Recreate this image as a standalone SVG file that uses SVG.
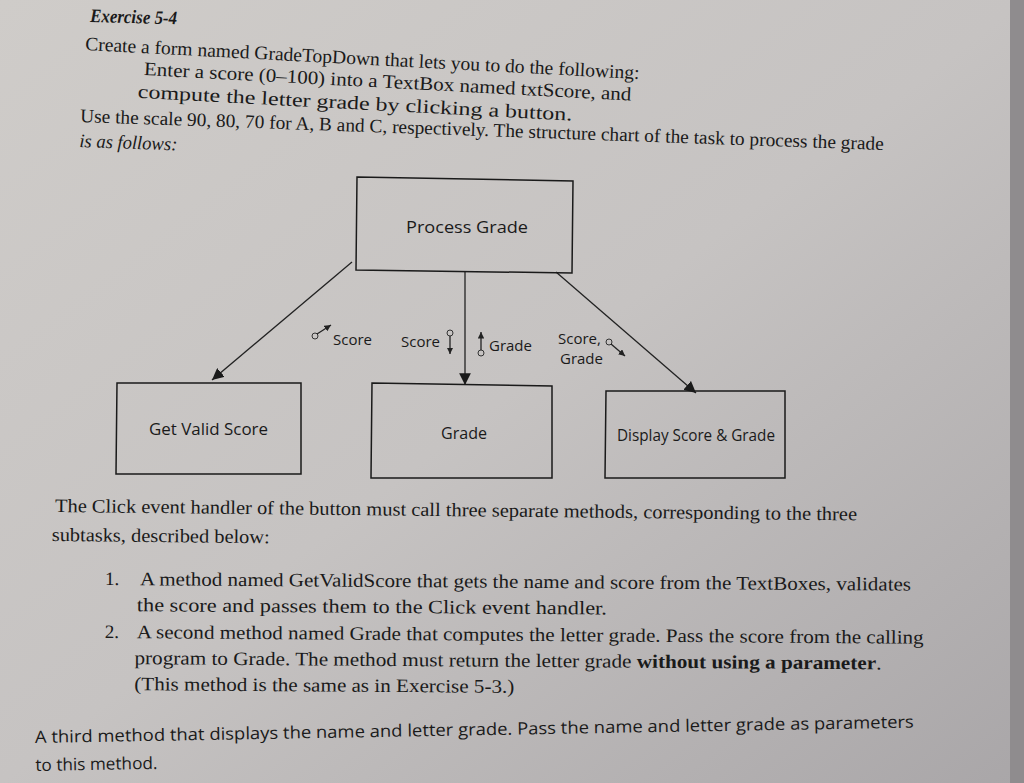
<svg xmlns="http://www.w3.org/2000/svg" width="1024" height="783" viewBox="0 0 1024 783">
<defs>
<linearGradient id="bg" x1="0" y1="0" x2="1" y2="1"><stop offset="0" stop-color="#cfccc9"/><stop offset="0.5" stop-color="#c6c3c2"/><stop offset="1" stop-color="#a9a6a8"/></linearGradient>
<marker id="ah" viewBox="0 0 10 10" refX="10" refY="5" markerWidth="9" markerHeight="9" orient="auto"><path d="M0,0 L10,5 L0,10 z" fill="#1a1a1a"/></marker>
<marker id="sm" viewBox="0 0 10 10" refX="10" refY="5" markerWidth="5" markerHeight="5" orient="auto"><path d="M0,0 L10,5 L0,10 z" fill="#222"/></marker>
</defs>
<style>
.s{font-family:"Liberation Serif",serif;font-size:19px;fill:#1a1a1a}
.b{font-family:"Open Sans","Noto Sans",sans-serif;font-size:15px;fill:#1a1a1a}
.t{font-family:"Open Sans","Noto Sans",sans-serif;font-size:17px;fill:#1a1a1a}
.box{fill:none;stroke:#1a1a1a;stroke-width:1.5}
.ln{stroke:#222;stroke-width:1.3;fill:none}
.c{fill:none;stroke:#333;stroke-width:1}
</style>
<rect width="1024" height="783" fill="url(#bg)"/>
<rect x="1010" y="0" width="14" height="783" fill="#8f8c8e"/>
<text x="90" y="22" class="s" font-weight="bold" font-style="italic" textLength="87" lengthAdjust="spacingAndGlyphs" transform="rotate(1.5 90 22)">Exercise 5-4</text>
<g transform="rotate(3 85 50)">
<text x="85" y="50" class="s" textLength="555" lengthAdjust="spacingAndGlyphs">Create a form named GradeTopDown that lets you to do the following:</text>
<text x="145" y="72" class="s" textLength="488" lengthAdjust="spacingAndGlyphs">Enter a score (0–100) into a TextBox named txtScore, and</text>
<text x="140" y="95" class="s" textLength="435" lengthAdjust="spacingAndGlyphs">compute the letter grade by clicking a button.</text>
</g>
<g transform="rotate(2 80 122)">
<text x="80" y="122" class="s" textLength="804" lengthAdjust="spacingAndGlyphs">Use the scale 90, 80, 70 for A, B and C, respectively. The structure chart of the task to process the grade</text>
<text x="80" y="147" class="s" font-style="italic" textLength="98" lengthAdjust="spacingAndGlyphs">is as follows:</text>
</g>
<g id="connectors">
<line x1="352" y1="262" x2="212" y2="380" class="ln" marker-end="url(#ah)"/>
<line x1="465" y1="272" x2="465" y2="385" class="ln" marker-end="url(#ah)"/>
<line x1="556" y1="272" x2="696" y2="393" class="ln" marker-end="url(#ah)"/>
<circle cx="315" cy="336" r="3" class="c"/><line x1="317" y1="334" x2="331" y2="325" class="ln" marker-end="url(#sm)"/>
<text x="333" y="345" class="b">Score</text>
<text x="401" y="347" class="b">Score</text>
<circle cx="450" cy="333" r="3" class="c"/><line x1="450" y1="336" x2="450" y2="354" class="ln" marker-end="url(#sm)"/>
<circle cx="481" cy="353" r="3" class="c"/><line x1="481" y1="350" x2="481" y2="332" class="ln" marker-end="url(#sm)"/>
<text x="489" y="351" class="b">Grade</text>
<text x="558" y="344" class="b">Score,</text>
<text x="560" y="364" class="b">Grade</text>
<circle cx="609" cy="342" r="3" class="c"/><line x1="611" y1="344" x2="625" y2="356" class="ln" marker-end="url(#sm)"/>
</g>
<g id="process"><path d="M357,177 L573,181 L572,273 L356,270 Z" class="box"/><text x="406" y="233" class="t" textLength="122" lengthAdjust="spacingAndGlyphs">Process Grade</text></g>
<g id="getvalid"><path d="M117,383 L301,383 L301,474 L116,474 Z" class="box"/><text x="149" y="435" class="t" textLength="119" lengthAdjust="spacingAndGlyphs">Get Valid Score</text></g>
<g id="grade"><path d="M372,383 L552,386 L552,478 L371,478 Z" class="box"/><text x="441" y="439" class="t" textLength="46" lengthAdjust="spacingAndGlyphs">Grade</text></g>
<g id="display"><path d="M606,391 L785,391 L785,478 L605,478 Z" class="box"/><text x="617" y="441" class="t" font-size="16" textLength="158" lengthAdjust="spacingAndGlyphs">Display Score &amp; Grade</text></g>
<g transform="rotate(0.6 55 512)">
<text x="55" y="512" class="s" textLength="802" lengthAdjust="spacingAndGlyphs">The Click event handler of the button must call three separate methods, corresponding to the three</text>
<text x="52" y="541" class="s" textLength="218" lengthAdjust="spacingAndGlyphs">subtasks, described below:</text>
</g>
<g transform="rotate(0.4 105 585)">
<text x="105" y="585" class="s">1.</text>
<text x="140" y="585" class="s" textLength="771" lengthAdjust="spacingAndGlyphs">A method named GetValidScore that gets the name and score from the TextBoxes, validates</text>
<text x="137" y="611" class="s" textLength="470" lengthAdjust="spacingAndGlyphs">the score and passes them to the Click event handler.</text>
<text x="105" y="638" class="s">2.</text>
<text x="137" y="638" class="s" textLength="787" lengthAdjust="spacingAndGlyphs">A second method named Grade that computes the letter grade. Pass the score from the calling</text>
<text x="135" y="664" class="s" textLength="747" lengthAdjust="spacingAndGlyphs">program to Grade. The method must return the letter grade <tspan font-weight="bold">without using a parameter</tspan>.</text>
<text x="135" y="690" class="s" textLength="380" lengthAdjust="spacingAndGlyphs">(This method is the same as in Exercise 5-3.)</text>
</g>
<g transform="rotate(-1 35 743)">
<text x="35" y="743" class="t" textLength="879" lengthAdjust="spacingAndGlyphs">A third method that displays the name and letter grade. Pass the name and letter grade as parameters</text>
<text x="35" y="771" class="t" textLength="122" lengthAdjust="spacingAndGlyphs">to this method.</text>
</g>
</svg>
